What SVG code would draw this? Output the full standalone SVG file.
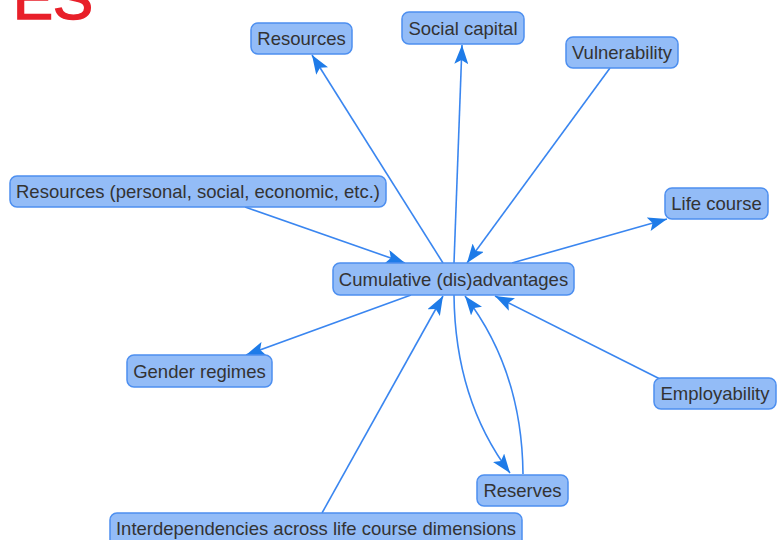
<svg xmlns="http://www.w3.org/2000/svg" width="784" height="540" viewBox="0 0 784 540">
<style>
.node rect{fill:#93bcf7;stroke:#4d8ff0;stroke-width:1.5}
.node text{font-family:"Liberation Sans",Arial,sans-serif;font-size:18.5px;fill:#333;text-anchor:middle;dominant-baseline:central}
.edge{fill:none;stroke:#3a86f0;stroke-width:1.6;marker-end:url(#arr)}
</style>
<defs>
<marker id="arr" markerUnits="userSpaceOnUse" markerWidth="20" markerHeight="14" refX="19" refY="7" orient="auto">
<path d="M0,0 L19,7 L0,14 L4,7 z" fill="#1e7be8"/>
</marker>
</defs>
<rect width="784" height="540" fill="#fff"/>
<text x="13" y="19" font-family="Liberation Sans,Arial,sans-serif" font-size="60" fill="#e8202a" stroke="#e8202a" stroke-width="1.5">ES</text>
<g id="connectors">
<path class="edge" d="M443,263 L312,55"/>
<path class="edge" d="M454,263 L462,45"/>
<path class="edge" d="M610,68 L467,263"/>
<path class="edge" d="M245,207 L405,263"/>
<path class="edge" d="M512,263 L667,219"/>
<path class="edge" d="M411,295 L246,355"/>
<path class="edge" d="M660,379 L495,296"/>
<path class="edge" d="M322,513 L443,296"/>
<path class="edge" d="M454,295 Q455,400 510,473"/>
<path class="edge" d="M523,474 Q522,370 465,296"/>
</g>
<g id="n-resources" class="node"><rect x="251" y="23" width="101" height="31" rx="7"/><text x="301.5" y="38.5">Resources</text></g>
<g id="n-social" class="node"><rect x="402" y="12" width="122" height="32" rx="7"/><text x="463" y="28">Social capital</text></g>
<g id="n-vuln" class="node"><rect x="566" y="37" width="112" height="31" rx="7"/><text x="622" y="52.5">Vulnerability</text></g>
<g id="n-respers" class="node"><rect x="10" y="176" width="376" height="31" rx="7"/><text x="198" y="191.5">Resources (personal, social, economic, etc.)</text></g>
<g id="n-life" class="node"><rect x="665" y="188" width="103" height="31" rx="7"/><text x="716.5" y="203.5">Life course</text></g>
<g id="n-cum" class="node"><rect x="333" y="263" width="241" height="32" rx="7"/><text x="453.5" y="279">Cumulative (dis)advantages</text></g>
<g id="n-gender" class="node"><rect x="127" y="355" width="145" height="32" rx="7"/><text x="199.5" y="371">Gender regimes</text></g>
<g id="n-employ" class="node"><rect x="654" y="378" width="122" height="31" rx="7"/><text x="715" y="393.5">Employability</text></g>
<g id="n-reserves" class="node"><rect x="477" y="475" width="91" height="31" rx="7"/><text x="522.5" y="490.5">Reserves</text></g>
<g id="n-interdep" class="node"><rect x="110" y="513" width="412" height="34" rx="7"/><text x="316" y="528">Interdependencies across life course dimensions</text></g>
</svg>
